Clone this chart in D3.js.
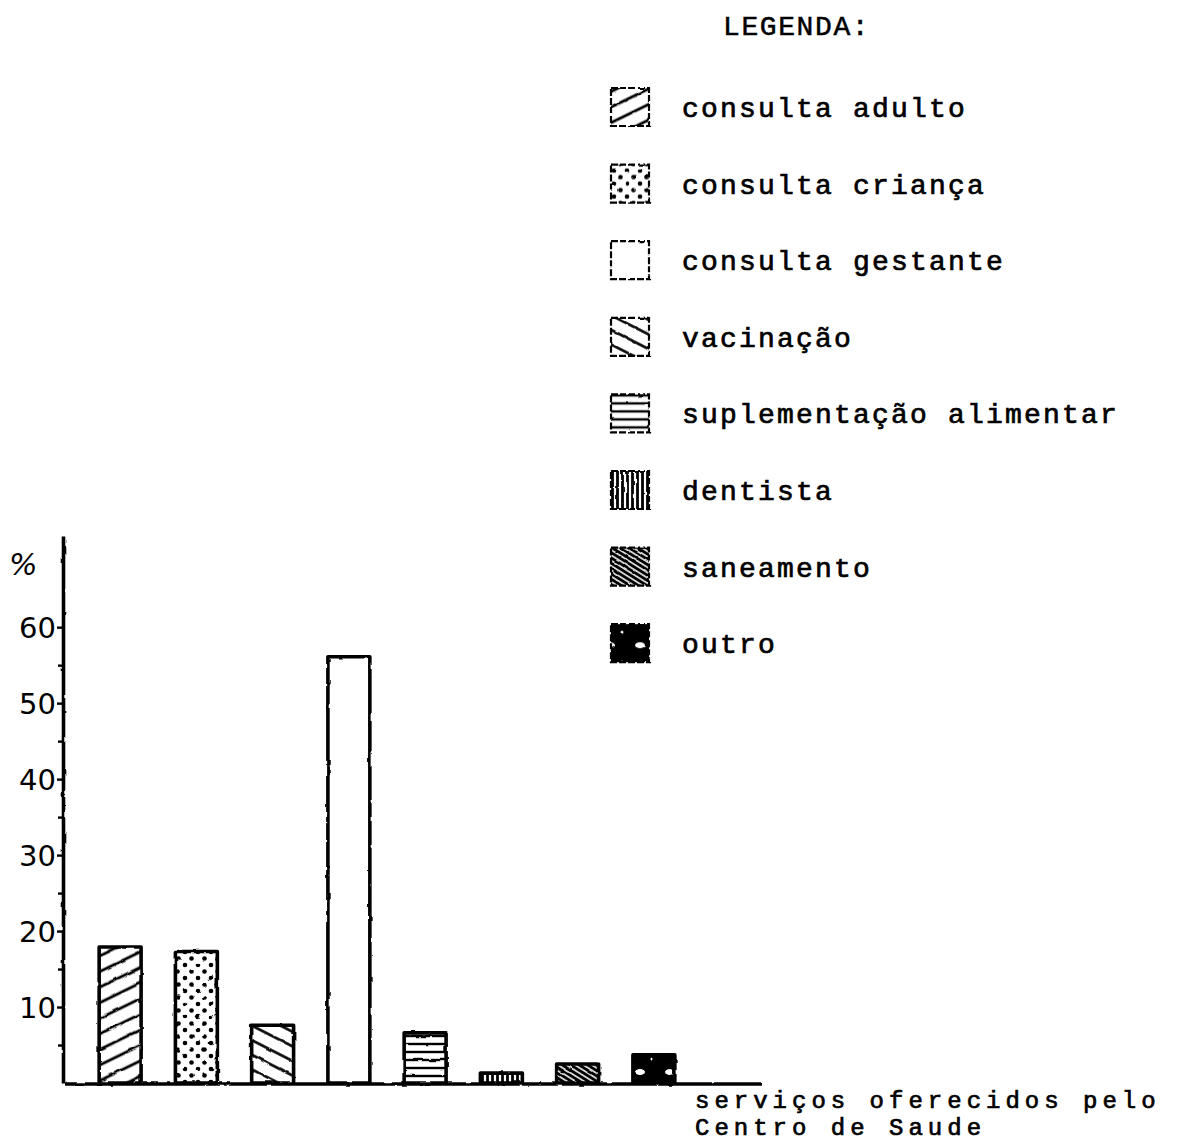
<!DOCTYPE html>
<html><head><meta charset="utf-8">
<script src="https://cdn.jsdelivr.net/npm/d3@7"></script>
<style>body{margin:0;background:#fff}</style>
</head><body><svg id="c" width="1179" height="1144"></svg>
<script>
// ---------- data ----------
const categories = ["consulta adulto","consulta criança","vacinação","consulta gestante","suplementação alimentar","dentista","saneamento","outro"];
const values = [17.9, 17.3, 7.6, 56.1, 6.6, 1.3, 2.5, 3.7];
const legendLabels = ["consulta adulto","consulta criança","consulta gestante","vacinação","suplementação alimentar","dentista","saneamento","outro"];
const majorTicks = [10, 20, 30, 40, 50, 60];
const minorTicks = [5, 15, 25, 35, 45, 55];
const legendTitle = "LEGENDA:";
const yLabel = "%";
const xTitle = ["serviços oferecidos pelo", "Centro de Saude"];

// ---------- styles ----------
const patternOf = {
  "consulta adulto":"pAdulto","consulta criança":"pCrianca","consulta gestante":"pGestante",
  "vacinação":"pVacina","suplementação alimentar":"pSuple","dentista":"pDent",
  "saneamento":"pSane","outro":"pOutro"
};
const mono = "'Liberation Mono','Courier New',monospace";

const svg = d3.select("#c");
svg.append("rect").attr("width",1179).attr("height",1144).attr("fill","#fff");
const defs = svg.append("defs");

// rough hand-drawn filter (large user-space region so nothing is clipped)
const f = defs.append("filter").attr("id","rough").attr("filterUnits","userSpaceOnUse")
  .attr("x",-1500).attr("y",-1500).attr("width",4000).attr("height",4000);
f.append("feTurbulence").attr("type","fractalNoise").attr("baseFrequency",0.09).attr("numOctaves",2).attr("seed",3).attr("result","n");
f.append("feDisplacementMap").attr("in","SourceGraphic").attr("in2","n").attr("scale",2.5).attr("xChannelSelector","R").attr("yChannelSelector","G");

function linePattern(id, spacing, sw, angle){
  const p = defs.append("pattern").attr("id",id).attr("patternUnits","userSpaceOnUse")
    .attr("width",spacing).attr("height",spacing).attr("patternTransform",`rotate(${angle})`);
  p.append("rect").attr("width",spacing).attr("height",spacing).attr("fill","#fff");
  p.append("line").attr("x1",0).attr("x2",spacing).attr("y1",spacing/2).attr("y2",spacing/2)
    .attr("stroke","#000").attr("stroke-width",sw);
}
linePattern("pAdulto", 14, 2.8, -26);
linePattern("pVacina", 13, 2.6, 27);
linePattern("pSuple", 8, 2.4, 0);
linePattern("pDent", 5, 2.8, 90);
linePattern("pSane", 4.5, 3, 32);
{
  const p = defs.append("pattern").attr("id","pCrianca").attr("patternUnits","userSpaceOnUse").attr("width",13).attr("height",13);
  p.append("rect").attr("width",13).attr("height",13).attr("fill","#fff");
  p.append("circle").attr("cx",3).attr("cy",3).attr("r",2.3).attr("fill","#000");
  p.append("circle").attr("cx",9.5).attr("cy",9.5).attr("r",2.3).attr("fill","#000");
}
{
  const p = defs.append("pattern").attr("id","pGestante").attr("patternUnits","userSpaceOnUse").attr("width",10).attr("height",10);
  p.append("rect").attr("width",10).attr("height",10).attr("fill","#fff");
}
{
  const p = defs.append("pattern").attr("id","pOutro").attr("patternUnits","userSpaceOnUse").attr("width",30).attr("height",30);
  p.append("rect").attr("width",30).attr("height",30).attr("fill","#000");
  p.append("ellipse").attr("cx",10).attr("cy",22).attr("rx",5).attr("ry",3).attr("fill","#fff");
  p.append("circle").attr("cx",22).attr("cy",9).attr("r",1.5).attr("fill","#fff");
}

// ---------- scales ----------
const y = d3.scaleLinear().domain([0, 72]).range([1083, 536]);
const x = d3.scaleBand().domain(categories).range([82, 692]).padding(0);
const barW = x.bandwidth() * 0.55;
const axisX = 63;

// ---------- bars ----------
const bars = svg.append("g").attr("filter","url(#rough)");
bars.selectAll("rect").data(categories).join("rect")
  .attr("x", d => x(d) + (x.bandwidth() - barW)/2)
  .attr("y", (d,i) => y(values[i]))
  .attr("width", barW)
  .attr("height", (d,i) => y(0) - y(values[i]))
  .attr("fill", d => `url(#${patternOf[d]})`)
  .attr("stroke", "#000").attr("stroke-width", 3.6).attr("stroke-linejoin","round");

// ---------- axes ----------
const axG = svg.append("g").attr("transform",`translate(${axisX},0)`);
const yAxis = d3.axisLeft(y).tickValues(majorTicks).tickSize(6).tickSizeOuter(0).tickPadding(1)
  .tickFormat(d3.format("d"));
axG.call(yAxis);
axG.select(".domain").attr("stroke","#000").attr("stroke-width",3.6).attr("filter","url(#rough)");
axG.selectAll(".tick line").attr("stroke","#000").attr("stroke-width",2.4);
axG.selectAll(".tick text").attr("font-family","'DejaVu Sans',sans-serif").attr("font-size",29)
  .attr("fill","#000").attr("dy","0.36em");
const minorG = svg.append("g").attr("transform",`translate(${axisX},0)`);
minorG.call(d3.axisLeft(y).tickValues(minorTicks).tickSize(5).tickSizeOuter(0).tickFormat(""));
minorG.select(".domain").remove();
minorG.selectAll(".tick line").attr("stroke","#000").attr("stroke-width",2.4);

// baseline
svg.append("path").attr("filter","url(#rough)")
  .attr("d", d3.line()([[axisX+2, y(0)+1], [x.range()[1] + 70, y(0)+1]]))
  .attr("stroke","#000").attr("stroke-width",3.4).attr("fill","none");

// % label
svg.append("text").text(yLabel).attr("x",9).attr("y",575)
  .attr("font-family","'DejaVu Sans',sans-serif").attr("font-style","italic")
  .attr("font-size",30).attr("fill","#000");

// x title
const xt = svg.append("text").attr("font-family",mono).attr("font-size",24)
  .attr("letter-spacing",5).attr("fill","#000").attr("stroke","#000").attr("stroke-width",0.7);
xTitle.forEach((t,i) => xt.append("tspan").attr("x",695).attr("y",1108 + i*27).text(t));

// ---------- legend ----------
svg.append("text").text(legendTitle).attr("x",723).attr("y",35)
  .attr("font-family",mono).attr("font-size",28).attr("letter-spacing",1.6)
  .attr("fill","#000").attr("stroke","#000").attr("stroke-width",0.5);

const lg = svg.append("g");
const rows = lg.selectAll("g").data(legendLabels).join("g")
  .attr("transform", (d,i) => `translate(0,${117 + i*76.6})`);
rows.append("rect").attr("x",611).attr("y",-29).attr("width",38).attr("height",38)
  .attr("fill", d => `url(#${patternOf[d]})`)
  .attr("stroke","#000").attr("stroke-width",2.2).attr("stroke-dasharray","7,2")
  .attr("filter","url(#rough)");
rows.append("text").text(d => d).attr("x",682).attr("y",0)
  .attr("font-family",mono).attr("font-size",28).attr("letter-spacing",2.2)
  .attr("fill","#000").attr("stroke","#000").attr("stroke-width",0.7);
</script></body></html>
